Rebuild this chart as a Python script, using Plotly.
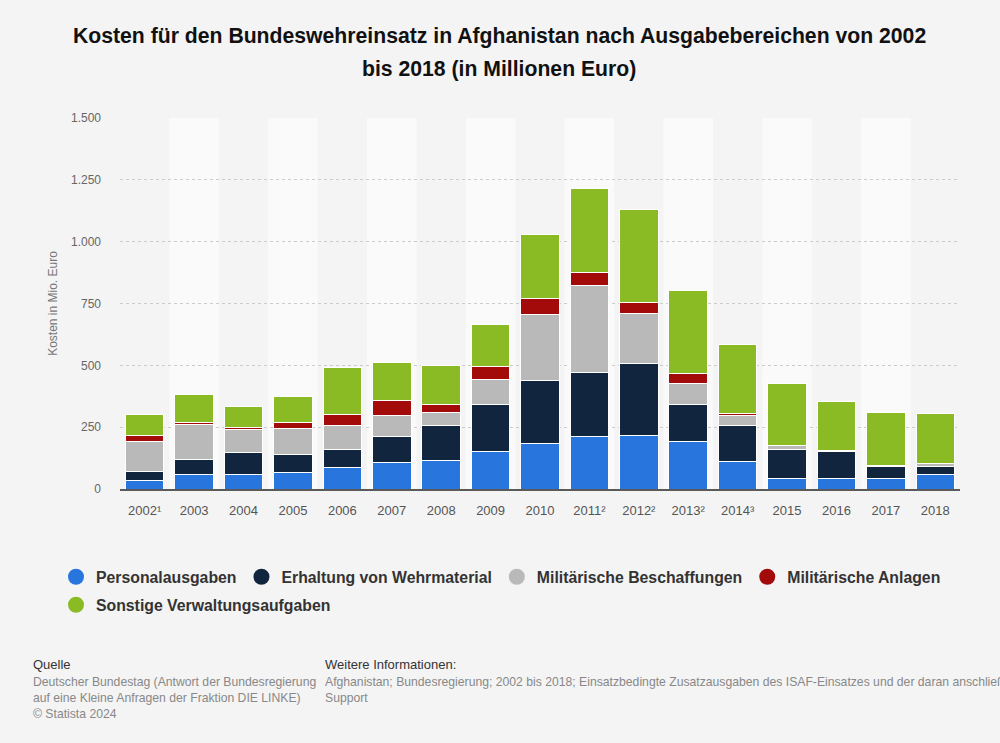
import plotly.graph_objects as go

years = ["2002¹", "2003", "2004", "2005", "2006", "2007", "2008", "2009", "2010",
         "2011²", "2012²", "2013²", "2014³", "2015", "2016", "2017", "2018"]
personal = [34, 59, 59, 65, 87, 109, 114, 152, 184, 211, 217, 191, 110, 44, 44, 44, 57]
erhaltung = [37, 61, 88, 76, 71, 102, 142, 189, 254, 259, 290, 151, 147, 115, 107, 49, 36]
beschaffung = [123, 139, 92, 103, 97, 85, 54, 101, 267, 353, 203, 84, 41, 16, 5, 2, 11]
anlagen = [21, 10, 10, 25, 48, 61, 31, 53, 67, 54, 43, 39, 9, 0, 0, 0, 0]
sonstige = [87, 112, 85, 104, 187, 155, 160, 172, 256, 337, 377, 337, 277, 252, 197, 214, 203]

series_names = ["Personalausgaben", "Erhaltung von Wehrmaterial", "Militärische Beschaffungen",
                "Militärische Anlagen", "Sonstige Verwaltungsaufgaben"]
series_values = [personal, erhaltung, beschaffung, anlagen, sonstige]
colors = ["#2876dd", "#11263e", "#b9b9b9", "#a30b0b", "#8abb25"]

tick_vals = [0, 250, 500, 750, 1000, 1250, 1500]

FONT = "Liberation Sans, Arial, sans-serif"
W, H = 1000, 743
L, R, T, B = 120, 40, 118, 254
PW, PH = W - L - R, H - T - B


def px_x(px):
    return (px - L) / PW


def px_y(py):
    return (H - B - py) / PH


fig = go.Figure()

for name, vals, col in zip(series_names, series_values, colors):
    fig.add_trace(go.Bar(
        x=years, y=vals, name=name, showlegend=False,
        marker=dict(color=col, line=dict(color="#ffffff", width=1)),
    ))

# legend entries with circular markers
for i, (name, col) in enumerate(zip(series_names, colors)):
    fig.add_trace(go.Scatter(
        x=[None], y=[None], mode="markers", name=name,
        marker=dict(color=col, size=17, symbol="circle"),
        legend="legend2" if i == 4 else "legend",
    ))

# alternating column bands
shapes = []
for i in range(len(years)):
    if i % 2 == 1:
        shapes.append(dict(type="rect", xref="x", yref="paper", x0=i - 0.5, x1=i + 0.5,
                           y0=0, y1=1, fillcolor="#fafafa", line=dict(width=0), layer="below"))

annotations = [
    dict(text="<b>Kosten für den Bundeswehreinsatz in Afghanistan nach Ausgabebereichen von 2002</b>",
         x=px_x(499), xref="paper", xanchor="center", y=px_y(36), yref="paper", yanchor="middle",
         showarrow=False, font=dict(family=FONT, size=21.2, color="#111111")),
    dict(text="<b>bis 2018 (in Millionen Euro)</b>",
         x=px_x(499), xref="paper", xanchor="center", y=px_y(69), yref="paper", yanchor="middle",
         showarrow=False, font=dict(family=FONT, size=21.2, color="#111111")),
    dict(text="Quelle", x=px_x(31), xref="paper", xanchor="left", y=px_y(664), yref="paper",
         yanchor="middle", showarrow=False, font=dict(family=FONT, size=13, color="#333333")),
    dict(text="Deutscher Bundestag (Antwort der Bundesregierung<br>auf eine Kleine Anfragen der Fraktion DIE LINKE)<br>© Statista 2024",
         x=px_x(31), xref="paper", xanchor="left", y=px_y(673), yref="paper", yanchor="top",
         align="left", showarrow=False, font=dict(family=FONT, size=12.2, color="#888888")),
    dict(text="Weitere Informationen:", x=px_x(323), xref="paper", xanchor="left", y=px_y(664),
         yref="paper", yanchor="middle", showarrow=False,
         font=dict(family=FONT, size=13, color="#333333")),
    dict(text="Afghanistan; Bundesregierung; 2002 bis 2018; Einsatzbedingte Zusatzausgaben des ISAF-Einsatzes und der daran anschließenden Mission Resolute<br>Support",
         x=px_x(323), xref="paper", xanchor="left", y=px_y(673), yref="paper", yanchor="top",
         align="left", showarrow=False, font=dict(family=FONT, size=12.2, color="#888888")),
]

legend_font = dict(family=FONT, size=15.8, color="#333333", weight="bold")

fig.update_layout(
    width=W, height=H,
    margin=dict(l=L, r=R, t=T, b=B),
    paper_bgcolor="#f4f4f4", plot_bgcolor="#f4f4f4",
    barmode="stack", bargap=0.22,
    separators=",.",
    font=dict(family=FONT, color="#555555"),
    shapes=shapes, annotations=annotations,
    xaxis=dict(type="category", showgrid=False, showline=True, linecolor="#5a5a5a", linewidth=2,
               tickfont=dict(size=13, color="#555555"), ticks="", ticklabelstandoff=8,
               fixedrange=True),
    yaxis=dict(range=[0, 1500], tickvals=tick_vals, tickformat=",d",
               showgrid=True, gridcolor="#cccccc", griddash="dot", gridwidth=1,
               zeroline=False, showline=False,
               tickfont=dict(size=12, color="#666666"), ticklabelstandoff=18,
               title=dict(text="Kosten in Mio. Euro", font=dict(size=12, color="#777777"), standoff=10)),
    legend=dict(orientation="h", x=px_x(56), xanchor="left", y=px_y(560), yanchor="top",
                traceorder="normal", font=legend_font,
                bgcolor="rgba(0,0,0,0)", itemclick=False, itemdoubleclick=False),
    legend2=dict(orientation="h", x=px_x(56), xanchor="left", y=px_y(588), yanchor="top",
                 traceorder="normal", font=legend_font,
                 bgcolor="rgba(0,0,0,0)", itemclick=False, itemdoubleclick=False),
)

fig.write_html("out.html", config={"displayModeBar": False},
               post_script="document.body.style.margin='0';")
